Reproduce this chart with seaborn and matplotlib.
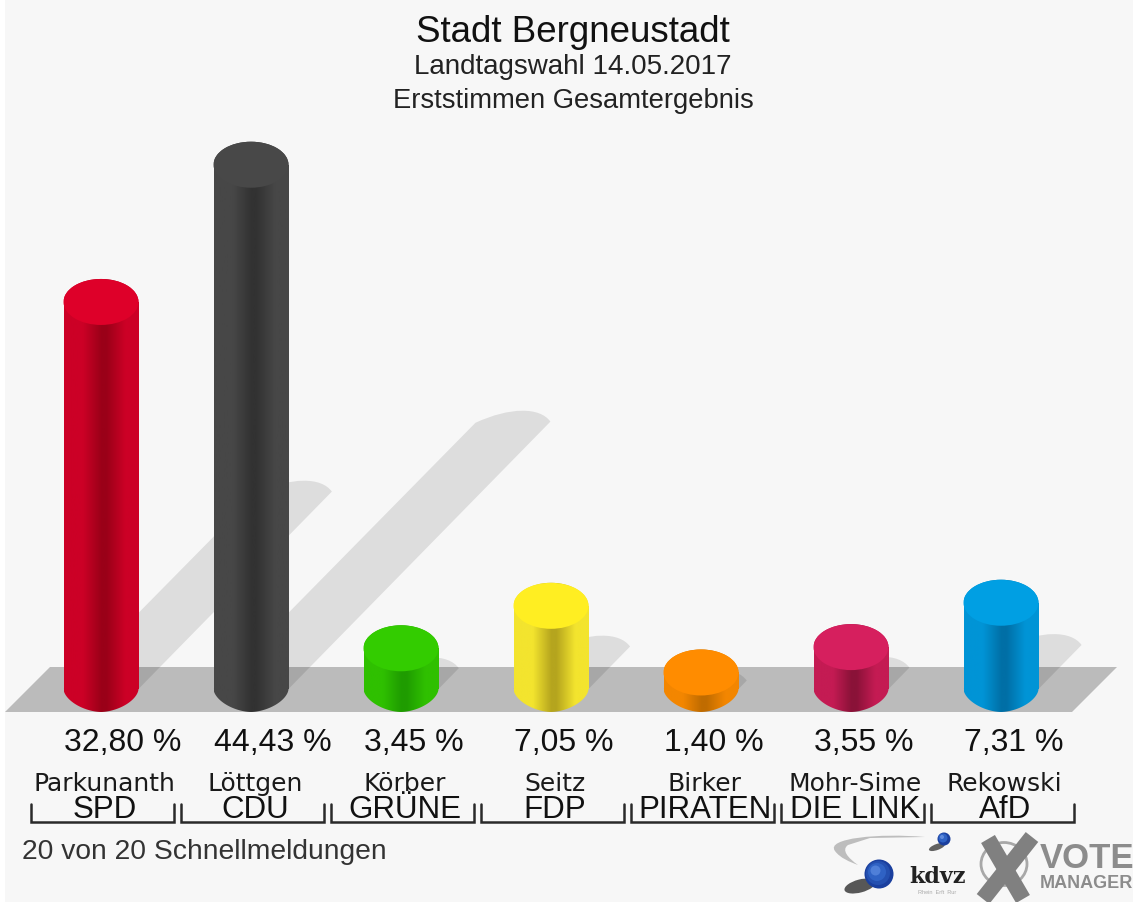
import numpy as np
import pandas as pd
import seaborn as sns
import matplotlib.pyplot as plt
from matplotlib.colors import LinearSegmentedColormap
from matplotlib.patches import Circle, Ellipse, PathPatch, Polygon
from matplotlib.path import Path
from matplotlib.transforms import Affine2D, blended_transform_factory

# Werte aus dem Bild
parteien = ["SPD", "CDU", "GRÜNE", "FDP", "PIRATEN", "DIE LINK", "AfD"]
kandidaten = ["Parkunanth", "Löttgen", "Körber", "Seitz", "Birker", "Mohr-Sime", "Rekowski"]
prozent = [32.80, 44.43, 3.45, 7.05, 1.40, 3.55, 7.31]

farbe_deckel = ["#DE0029", "#484848", "#33CC00", "#FFEE22", "#FF8C00", "#D61F5E", "#009FE3"]
farbe_seite = ["#CC0026", "#474747", "#2FC000", "#F3E42E", "#F38600", "#C41B53", "#0094D6"]
farbe_mitte = ["#9A0018", "#323232", "#1F9C00", "#B5A51E", "#C06C00", "#8A1238", "#006FA6"]

W, H = 1133, 902
PX_X = 150.0    # Pixel je Partei
PX_Y = 11.8     # Pixel je Prozent
X0, Y0 = 101, 689
RY = 23 / PX_Y  # Halbachse der Ellipse in Prozent

sns.set_theme(style="white")
plt.rcParams["font.family"] = ["Liberation Sans", "DejaVu Sans"]

fig = plt.figure(figsize=(W / 100, H / 100), dpi=100, facecolor="white")
ax = fig.add_axes([5 / W, 0, (W - 5) / W, 1])
ax.set_facecolor("#F7F7F7")

# Pixelkoordinaten fuer Beschriftung und Dekoration
px = Affine2D().scale(1 / W, -1 / H).translate(0, 1) + fig.transFigure
x_data_y_px = blended_transform_factory(ax.transData, px)

df = pd.DataFrame({"partei": parteien, "prozent": prozent})
sns.barplot(data=df, x="partei", y="prozent", hue="partei", palette=farbe_seite,
            width=0.5, saturation=1, legend=False, ax=ax, zorder=3, linewidth=0)

# Boden
ax.add_patch(Polygon([(5, 712), (50, 667), (1117, 667), (1072, 712)], closed=True,
                     facecolor="#BBBBBB", edgecolor="none", transform=px, zorder=1))

t = np.linspace(0, np.pi, 60)
for i, balken in enumerate(ax.patches[:len(parteien)]):
    x0 = balken.get_x()
    x1 = x0 + balken.get_width()
    xm = (x0 + x1) / 2
    v = balken.get_height()

    # Schatten nach rechts oben
    sx = 0.0393 * v
    sy = 0.51 * v
    schatten = Path([(x0, 0), (x1, 0), (x1 + sx, sy),
                     (x1 + sx - 0.07, sy + 1.25), (x1 + sx - 0.27, sy + 1.25),
                     (x0 + sx, sy - 0.1), (x0, 0)],
                    [Path.MOVETO, Path.LINETO, Path.LINETO,
                     Path.CURVE4, Path.CURVE4, Path.CURVE4, Path.CLOSEPOLY])
    ax.add_patch(PathPatch(schatten, facecolor="black", alpha=0.1, edgecolor="none", zorder=2))

    # Zylinder mit Verlauf, unten etwas spitzer als eine Ellipse
    c = np.cos(t)
    s = np.sin(t)
    unten = np.column_stack([xm - 0.25 * np.sign(c) * np.abs(c) ** 1.15, -RY * s ** 1.15])
    oben = np.column_stack([xm + 0.25 * c, v + RY * s])
    umriss = Path(np.vstack([unten, oben, unten[:1]]), closed=True)
    cmap = LinearSegmentedColormap.from_list("z", [(0, farbe_seite[i]), (0.25, farbe_seite[i]),
                                                   (0.5, farbe_mitte[i]), (0.57, farbe_mitte[i]),
                                                   (0.82, farbe_seite[i]), (1, farbe_seite[i])])
    im = ax.imshow(np.linspace(0, 1, 128).reshape(1, -1), cmap=cmap, aspect="auto",
                   extent=(x0, x1, -RY, v + RY), zorder=4)
    im.set_clip_path(umriss, ax.transData)

    # Deckel
    ax.add_patch(Ellipse((xm, v), 0.5, 2 * RY, facecolor=farbe_deckel[i], edgecolor="none", zorder=5))

    # Beschriftung
    ax.text(x0 + 0.005, 743, f"{v:.2f} %".replace(".", ","), transform=x_data_y_px,
            ha="left", va="center", fontsize=23, color="#111111", zorder=6)
    ax.text(xm + 0.025, 784, kandidaten[i], transform=x_data_y_px, ha="center", va="center",
            fontsize=18, family="DejaVu Sans", color="#1A1A1A", zorder=6)
    ax.text(xm + 0.025, 810, parteien[i], transform=x_data_y_px, ha="center", va="center",
            fontsize=22.5, color="#111111", zorder=6)

    # Klammer
    ax.plot([xm - 0.467, xm - 0.467, xm + 0.487, xm + 0.487],
            [804, 822, 822, 804], transform=x_data_y_px, color="#2A2A2A", lw=1.8,
            solid_joinstyle="miter", zorder=6)

# Titel
ax.text(573, 32, "Stadt Bergneustadt", transform=px, ha="center", va="center", fontsize=26.5, color="#111111")
ax.text(573, 67, "Landtagswahl 14.05.2017", transform=px, ha="center", va="center", fontsize=20, color="#222222")
ax.text(573, 101, "Erststimmen Gesamtergebnis", transform=px, ha="center", va="center", fontsize=19.7, color="#222222")
ax.text(22, 852, "20 von 20 Schnellmeldungen", transform=px, ha="left", va="center", fontsize=20.3, color="#333333")

# Logo kdvz
bogen = Path([(925, 837), (880, 833), (825, 838), (835, 851), (840, 858), (850, 862), (858, 865),
              (848, 858), (841, 850), (848, 845), (870, 838), (925, 837), (925, 837)],
             [Path.MOVETO] + [Path.CURVE4] * 6 + [Path.CURVE4] * 3 + [Path.LINETO, Path.LINETO, Path.CLOSEPOLY])
ax.add_patch(PathPatch(bogen, facecolor="#BDBDBD", edgecolor="none", transform=px, zorder=6))
ax.add_patch(Ellipse((937, 847), 17, 6, angle=-20, facecolor="#222222", alpha=0.7, edgecolor="none", transform=px, zorder=6))
ax.add_patch(Ellipse((860, 886), 32, 13, angle=-15, facecolor="#222222", alpha=0.75, edgecolor="none", transform=px, zorder=6))
for r, d, c in [(14.5, 0, "#1A3F9E"), (12, -1, "#2450B0"), (9, -2, "#2F62C4"), (5, -3.5, "#4F7FD8")]:
    ax.add_patch(Circle((879 + d, 874 + d), r, facecolor=c, edgecolor="none", transform=px, zorder=6))
for r, d, c in [(6.5, 0, "#1A3F9E"), (4.5, -1, "#2F62C4"), (2, -2, "#5F8ADC")]:
    ax.add_patch(Circle((944 + d, 839 + d), r, facecolor=c, edgecolor="none", transform=px, zorder=6))
ax.text(937, 877, "kdvz", transform=px, ha="center", va="center", fontsize=16, fontweight="bold",
        family="DejaVu Serif", color="#222222", zorder=6)
ax.text(937, 892, "Rhein  Erft  Rur", transform=px, ha="center", va="center", fontsize=4, color="#AAAAAA", zorder=6)

# Logo Vote Manager
ax.add_patch(Ellipse((1004, 864), 46, 43, facecolor="none", edgecolor="#A8A8A8", lw=2, transform=px, zorder=6))
ax.plot([988, 1023], [839, 899], transform=px, color="#808080", lw=11.5, solid_capstyle="butt", zorder=7)
ax.plot([1032, 983], [837, 899], transform=px, color="#808080", lw=11.5, solid_capstyle="butt", zorder=7)
ax.text(1040, 858, "VOTE", transform=px, ha="left", va="center", fontsize=25, fontweight="bold", color="#8C8C8C", zorder=6)
ax.text(1040, 884, "MANAGER", transform=px, ha="left", va="center", fontsize=13, fontweight="bold", color="#8C8C8C", zorder=6)

ax.set_xlim((5 - X0) / PX_X, (W - X0) / PX_X)
ax.set_ylim((Y0 - H) / PX_Y, Y0 / PX_Y)
ax.set_xlabel("")
ax.set_ylabel("")
ax.tick_params(length=0, labelbottom=False, labelleft=False)
sns.despine(ax=ax, left=True, bottom=True)

fig.savefig("out.png", dpi=100)
